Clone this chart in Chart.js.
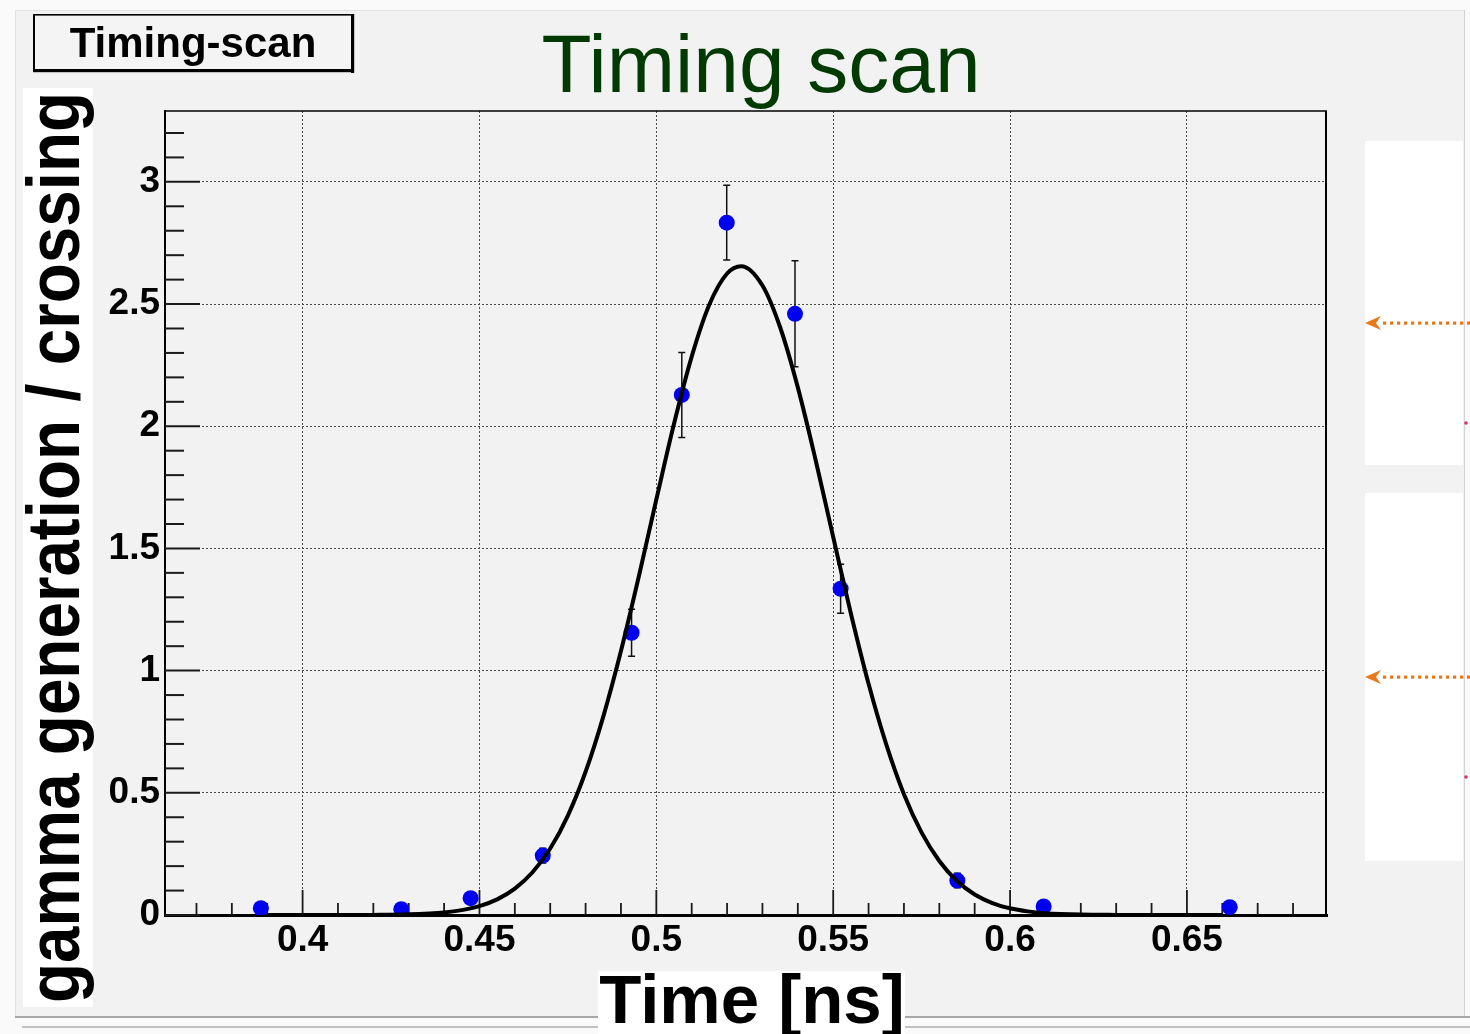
<!DOCTYPE html>
<html><head><meta charset="utf-8">
<script src="https://cdn.jsdelivr.net/npm/chart.js@4.4.0/dist/chart.umd.min.js"></script>
<style>html,body{margin:0;padding:0;background:#fafafa;overflow:hidden}#wrap{width:1470px;height:1034px}</style>
</head><body><div id="wrap"><canvas id="c" width="1470" height="1034"></canvas></div>
<script>
// measured points (Time [ns], gamma generation / crossing) and their errors
const pointX = [0.3882, 0.4279, 0.4475, 0.4679, 0.4930, 0.5072, 0.5199, 0.5392, 0.5521, 0.5851, 0.6095, 0.6621];
const pointY = [0.028, 0.024, 0.069, 0.243, 1.155, 2.128, 2.833, 2.460, 1.335, 0.141, 0.035, 0.032];
const pointErr = [0.01, 0.01, 0.02, 0.03, 0.096, 0.174, 0.153, 0.217, 0.10, 0.03, 0.01, 0.01];
// fitted curve
const fitX = [0.39, 0.40, 0.41, 0.42, 0.43, 0.44, 0.445, 0.45, 0.455, 0.46, 0.465, 0.47, 0.475, 0.48, 0.485, 0.49, 0.495, 0.50, 0.505, 0.51, 0.515, 0.52, 0.524, 0.53, 0.535, 0.54, 0.545, 0.55, 0.555, 0.56, 0.565, 0.57, 0.575, 0.58, 0.585, 0.59, 0.595, 0.60, 0.605, 0.61, 0.62, 0.63, 0.64, 0.65, 0.66];
const fitY = [0, 0, 0.0001, 0.0005, 0.0026, 0.0105, 0.020, 0.0365, 0.064, 0.108, 0.175, 0.272, 0.407, 0.586, 0.812, 1.080, 1.382, 1.700, 2.010, 2.285, 2.498, 2.625, 2.655, 2.576, 2.405, 2.159, 1.864, 1.547, 1.234, 0.946, 0.698, 0.494, 0.337, 0.221, 0.139, 0.084, 0.049, 0.0275, 0.0148, 0.0076, 0.0018, 0.0004, 0.0001, 0, 0];
// axes
const xTicks = [0.4, 0.45, 0.5, 0.55, 0.6, 0.65];
const xTickLabels = ['0.4', '0.45', '0.5', '0.55', '0.6', '0.65'];
const yTicks = [0, 0.5, 1, 1.5, 2, 2.5, 3];
const yTickLabels = ['0', '0.5', '1', '1.5', '2', '2.5', '3'];
const xMinorTicks = [0.37, 0.38, 0.39, 0.41, 0.42, 0.43, 0.44, 0.46, 0.47, 0.48, 0.49, 0.51, 0.52, 0.53, 0.54, 0.56, 0.57, 0.58, 0.59, 0.61, 0.62, 0.63, 0.64, 0.66, 0.67, 0.68];
const yMinorTicks = [0.1, 0.2, 0.3, 0.4, 0.6, 0.7, 0.8, 0.9, 1.1, 1.2, 1.3, 1.4, 1.6, 1.7, 1.8, 1.9, 2.1, 2.2, 2.3, 2.4, 2.6, 2.7, 2.8, 2.9, 3.1, 3.2];
const xRange = [0.3611, 0.6896];
const yRange = [0, 3.29];
const titleText = 'Timing scan';
const boxText = 'Timing-scan';
const xTitle = 'Time [ns]';
const yTitle = 'gamma generation / crossing';

const FONT = '"Liberation Sans", Arial, Helvetica, sans-serif';

const deco = {
  id: 'deco',
  beforeDraw(chart) {
    const ctx = chart.ctx;
    ctx.save();
    ctx.fillStyle = '#fafafa'; ctx.fillRect(0, 0, 1470, 1034);
    ctx.fillStyle = '#f2f2f2'; ctx.fillRect(15, 10, 1449, 1007);
    ctx.lineWidth = 1;
    ctx.strokeStyle = '#e2e2e2';
    ctx.beginPath(); ctx.moveTo(15, 10.5); ctx.lineTo(1464, 10.5); ctx.stroke();
    ctx.beginPath(); ctx.moveTo(15.5, 10); ctx.lineTo(15.5, 1017); ctx.stroke();
    ctx.strokeStyle = '#d2d2d2';
    ctx.beginPath(); ctx.moveTo(1464.5, 10); ctx.lineTo(1464.5, 1017); ctx.stroke();
    ctx.lineWidth = 2;
    ctx.strokeStyle = '#a8a8a8';
    ctx.beginPath(); ctx.moveTo(15, 1017); ctx.lineTo(1470, 1017); ctx.stroke();
    ctx.strokeStyle = '#c2c2c2';
    ctx.beginPath(); ctx.moveTo(22, 1027); ctx.lineTo(1470, 1027); ctx.stroke();
    // right-side panels
    ctx.fillStyle = '#ffffff';
    ctx.fillRect(1365, 141, 98, 324);
    ctx.fillRect(1365, 493, 98, 368);
    const arrow = (y) => {
      ctx.fillStyle = '#e57a1c';
      ctx.beginPath();
      ctx.moveTo(1365, y); ctx.lineTo(1381, y - 7); ctx.lineTo(1376, y); ctx.lineTo(1381, y + 7); ctx.closePath(); ctx.fill();
      for (let x = 1383; x < 1470; x += 7) ctx.fillRect(x, y - 1.5, 3.2, 3.2);
    };
    arrow(323); arrow(677);
    ctx.fillStyle = '#d23a6e';
    [423, 777].forEach(y => { ctx.beginPath(); ctx.arc(1466, y, 1.8, 0, Math.PI * 2); ctx.fill(); });
    // white patches behind axis titles
    ctx.fillStyle = '#ffffff';
    ctx.fillRect(598, 971, 307, 63);
    ctx.fillRect(23, 88, 70, 919);
    // label box
    ctx.fillStyle = '#f4f4f4'; ctx.fillRect(34, 15, 318, 55);
    ctx.fillStyle = '#000';
    ctx.fillRect(33, 14, 320, 1.6);
    ctx.fillRect(33, 14, 2, 57);
    ctx.fillRect(351, 14, 3.2, 59);
    ctx.fillRect(33, 69, 321, 3.2);
    ctx.font = 'bold 42px ' + FONT;
    ctx.textAlign = 'center'; ctx.textBaseline = 'alphabetic';
    ctx.fillText(boxText, 193, 57);
    // main title
    ctx.fillStyle = '#033a03';
    ctx.font = '82px ' + FONT;
    ctx.fillText(titleText, 761, 92);
    // x title
    ctx.fillStyle = '#000';
    ctx.font = 'bold 69px ' + FONT;
    ctx.fillText(xTitle, 752, 1023);
    // y title (condensed)
    ctx.font = 'bold 74px ' + FONT;
    const w = ctx.measureText(yTitle).width;
    ctx.translate(79, 547.5);
    ctx.rotate(-Math.PI / 2);
    ctx.scale(911 / w, 1);
    ctx.fillText(yTitle, 0, 0);
    ctx.restore();
  },
  beforeDatasetsDraw(chart) {
    const ctx = chart.ctx, xs = chart.scales.x, ys = chart.scales.y;
    const a = chart.chartArea;
    ctx.save();
    // tick marks inside the frame
    ctx.strokeStyle = '#1a1a1a';
    ctx.lineWidth = 2;
    yTicks.forEach(v => { const y = ys.getPixelForValue(v); ctx.beginPath(); ctx.moveTo(a.left, y); ctx.lineTo(a.left + 35, y); ctx.stroke(); });
    yMinorTicks.forEach(v => { const y = ys.getPixelForValue(v); ctx.beginPath(); ctx.moveTo(a.left, y); ctx.lineTo(a.left + 19, y); ctx.stroke(); });
    ctx.lineWidth = 1.8;
    xTicks.forEach(v => { const x = xs.getPixelForValue(v); ctx.beginPath(); ctx.moveTo(x, a.bottom); ctx.lineTo(x, a.bottom - 25); ctx.stroke(); });
    xMinorTicks.forEach(v => { const x = xs.getPixelForValue(v); ctx.beginPath(); ctx.moveTo(x, a.bottom); ctx.lineTo(x, a.bottom - 12); ctx.stroke(); });
    // frame top / right
    ctx.strokeStyle = '#000';
    ctx.lineWidth = 1.6;
    ctx.beginPath(); ctx.moveTo(a.left, a.top); ctx.lineTo(a.right, a.top); ctx.stroke();
    ctx.lineWidth = 2;
    ctx.beginPath(); ctx.moveTo(a.right - 1, a.top); ctx.lineTo(a.right - 1, a.bottom); ctx.stroke();
    // error bars
    ctx.strokeStyle = '#111';
    ctx.lineWidth = 1.5;
    pointX.forEach((xv, i) => {
      const x = xs.getPixelForValue(xv);
      const y1 = ys.getPixelForValue(pointY[i] + pointErr[i]);
      const y2 = ys.getPixelForValue(pointY[i] - pointErr[i]);
      ctx.beginPath();
      ctx.moveTo(x, y1); ctx.lineTo(x, y2);
      ctx.moveTo(x - 3.5, y1); ctx.lineTo(x + 3.5, y1);
      ctx.moveTo(x - 3.5, y2); ctx.lineTo(x + 3.5, y2);
      ctx.stroke();
    });
    ctx.restore();
  }
};

const tickFont = { family: FONT, size: 37, weight: 'bold' };

new Chart(document.getElementById('c'), {
  type: 'scatter',
  data: {
    datasets: [
      {
        type: 'line',
        data: fitX.map((x, i) => ({ x, y: fitY[i] })),
        borderColor: '#000', borderWidth: 4, pointRadius: 0,
        cubicInterpolationMode: 'monotone', fill: false
      },
      {
        data: pointX.map((x, i) => ({ x, y: pointY[i] })),
        backgroundColor: '#0000f0', borderWidth: 0, pointRadius: 8, showLine: false
      }
    ]
  },
  options: {
    responsive: false, animation: false, devicePixelRatio: 1,
    layout: { padding: { left: 0, top: 111, right: 143, bottom: 0 } },
    plugins: { legend: { display: false }, tooltip: { enabled: false } },
    scales: {
      x: {
        type: 'linear', min: xRange[0], max: xRange[1],
        afterBuildTicks(s) { s.ticks = xTicks.map(v => ({ value: v })); },
        afterFit(s) { s.height = 119; },
        ticks: { callback: (v, i) => xTickLabels[i], font: tickFont, color: '#000', padding: 4, maxRotation: 0, autoSkip: false },
        grid: { color: '#4a4a4a', lineWidth: 1, drawTicks: false },
        border: { display: true, color: '#000', width: 3, dash: [2, 2] },
        title: { display: false }
      },
      y: {
        type: 'linear', min: yRange[0], max: yRange[1],
        afterBuildTicks(s) { s.ticks = yTicks.map(v => ({ value: v })); },
        afterFit(s) { s.width = 165; },
        ticks: { callback: (v, i) => yTickLabels[i], font: tickFont, color: '#000', padding: 5, autoSkip: false },
        grid: { color: '#4a4a4a', lineWidth: 1, drawTicks: false },
        border: { display: true, color: '#000', width: 2, dash: [2, 2] }
      }
    }
  },
  plugins: [deco]
});
</script>
</body></html>
